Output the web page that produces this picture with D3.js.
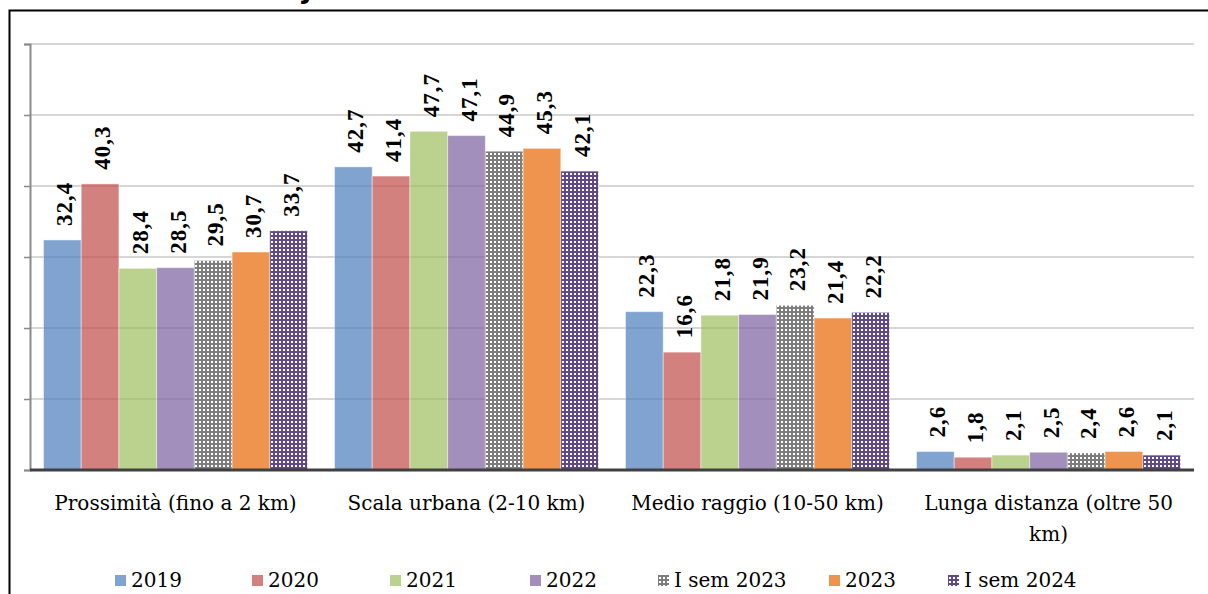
<!DOCTYPE html>
<html>
<head>
<meta charset="utf-8">
<script src="https://cdn.jsdelivr.net/npm/d3@7"></script>
<style>
  html, body { margin: 0; padding: 0; background: #fff; }
  svg { display: block; }
</style>
</head>
<body>
<div id="chart"></div>
<script>
// Distanze percorse: quota per fascia (%)
const categories = [
  "Prossimità (fino a 2 km)",
  "Scala urbana (2-10 km)",
  "Medio raggio (10-50 km)",
  "Lunga distanza (oltre 50 km)"
];
const seriesNames = ["2019", "2020", "2021", "2022", "I sem 2023", "2023", "I sem 2024"];
const v2019 = [32.4, 42.7, 22.3, 2.6];
const v2020 = [40.3, 41.4, 16.6, 1.8];
const v2021 = [28.4, 47.7, 21.8, 2.1];
const v2022 = [28.5, 47.1, 21.9, 2.5];
const vSem2023 = [29.5, 44.9, 23.2, 2.4];
const v2023 = [30.7, 45.3, 21.4, 2.6];
const vSem2024 = [33.7, 42.1, 22.2, 2.1];
const yTicks = [0, 10, 20, 30, 40, 50, 60];

const allValues = [v2019, v2020, v2021, v2022, vSem2023, v2023, vSem2024];

const W = 1208, H = 594;
const M = { left: 30, right: 1194, top: 44, bottom: 470 };
const fmt = v => String(v).replace('.', ',');
const serif = "'Liberation Serif', 'Times New Roman', serif";
const serif2 = "'DejaVu Serif', serif";
// legend entry positions (left edge of marker)
const legendX = [115, 252, 390, 530, 658, 829, 948];

const svg = d3.select('#chart').append('svg')
  .attr('width', W)
  .attr('height', H);

// patterns for the half-year series
const defs = svg.append('defs');
function dotPattern(id, bg) {
  const p = defs.append('pattern')
    .attr('id', id)
    .attr('patternUnits', 'userSpaceOnUse')
    .attr('width', 4).attr('height', 4);
  p.append('rect').attr('width', 4).attr('height', 4).attr('fill', bg);
  p.append('rect').attr('x', 1).attr('y', 1).attr('width', 2).attr('height', 2).attr('fill', '#fff');
}
dotPattern('pat-gray', '#7d7d7d');
dotPattern('pat-purple', '#5f4a86');

const fills = ['#4f81bd', '#c0504d', '#9bbb59', '#8064a2', 'url(#pat-gray)', '#ee944f', 'url(#pat-purple)'];
const opac = [0.72, 0.72, 0.68, 0.72, 1, 1, 1];

// frame
svg.append('path')
  .attr('d', `M9.5,${H} V10.5 H${W}`)
  .attr('fill', 'none')
  .attr('stroke', '#000')
  .attr('stroke-width', 2);

// cut-off title fragment
svg.append('text')
  .attr('x', 302).attr('y', -2)
  .attr('font-family', "'DejaVu Sans', sans-serif")
  .attr('font-weight', 'bold')
  .attr('font-size', 28)
  .attr('fill', '#000')
  .text('j');

const x0 = d3.scaleBand().domain(categories).range([M.left, M.right]);
const x1 = d3.scaleBand().domain(seriesNames)
  .range([13.5, x0.bandwidth() - 13.5]);
const y = d3.scaleLinear().domain([0, 60]).range([M.bottom, M.top]);

// gridlines
svg.append('g')
  .selectAll('line')
  .data(yTicks.filter(t => t > 0))
  .join('line')
  .attr('x1', M.left).attr('x2', M.right)
  .attr('y1', d => y(d)).attr('y2', d => y(d))
  .attr('stroke', '#c9c9c9')
  .attr('stroke-width', 1.5);

// y axis without labels
const yAxis = svg.append('g')
  .attr('transform', `translate(${M.left},0)`)
  .call(d3.axisLeft(y).tickValues(yTicks).tickSize(6).tickFormat(''));
yAxis.select('.domain').attr('stroke', '#8a8a8a').attr('stroke-width', 2);
yAxis.selectAll('.tick line').attr('stroke', '#8a8a8a').attr('stroke-width', 1.5);

// bars
const groups = svg.append('g')
  .selectAll('g')
  .data(categories)
  .join('g')
  .attr('transform', d => `translate(${x0(d)},0)`);

const barData = (c, ci) => seriesNames.map((s, si) => ({ s, si, v: allValues[si][ci] }));

groups.selectAll('rect')
  .data((c, ci) => barData(c, ci))
  .join('rect')
  .attr('x', d => x1(d.s))
  .attr('width', x1.bandwidth())
  .attr('y', d => y(d.v))
  .attr('height', d => y(0) - y(d.v))
  .attr('fill', d => fills[d.si])
  .attr('fill-opacity', d => opac[d.si])
  .attr('stroke', '#fff')
  .attr('stroke-opacity', 0.45)
  .attr('stroke-width', 1);

// value labels (rotated)
groups.selectAll('text.val')
  .data((c, ci) => barData(c, ci))
  .join('text')
  .attr('class', 'val')
  .attr('transform', d => `translate(${x1(d.s) + x1.bandwidth() / 2 + 2},${y(d.v) - 14}) rotate(-90)`)
  .attr('dy', '0.35em')
  .attr('font-family', serif)
  .attr('font-weight', 'bold')
  .attr('font-size', 23)
  .attr('letter-spacing', 1)
  .attr('fill', '#000')
  .text(d => fmt(d.v));

// baseline
svg.append('line')
  .attr('x1', M.left).attr('x2', M.right)
  .attr('y1', y(0)).attr('y2', y(0))
  .attr('stroke', '#404040')
  .attr('stroke-width', 3);

// category labels (wrapped)
const catG = svg.append('g');
categories.forEach(c => {
  const cx = x0(c) + x0.bandwidth() / 2;
  const t = catG.append('text')
    .attr('x', cx)
    .attr('y', 510)
    .attr('text-anchor', 'middle')
    .attr('font-family', serif2)
    .attr('font-size', 20)
    .attr('fill', '#000');
  const words = c.split(' ');
  let line = [];
  let ts = t.append('tspan').attr('x', cx).attr('dy', 0);
  words.forEach(w => {
    line.push(w);
    ts.text(line.join(' '));
    if (ts.node().getComputedTextLength() > x0.bandwidth() - 10 && line.length > 1) {
      line.pop();
      ts.text(line.join(' '));
      line = [w];
      ts = t.append('tspan').attr('x', cx).attr('dy', 31).text(w);
    }
  });
});

// legend
const leg = svg.append('g')
  .selectAll('g')
  .data(seriesNames)
  .join('g')
  .attr('transform', (d, i) => `translate(${legendX[i]},0)`);
leg.append('rect')
  .attr('y', 575).attr('width', 11).attr('height', 11)
  .attr('fill', (d, i) => fills[i])
  .attr('fill-opacity', (d, i) => opac[i]);
leg.append('text')
  .attr('x', 16).attr('y', 587)
  .attr('font-family', serif2)
  .attr('font-size', 20)
  .attr('fill', '#000')
  .text(d => d);
</script>
</body>
</html>
